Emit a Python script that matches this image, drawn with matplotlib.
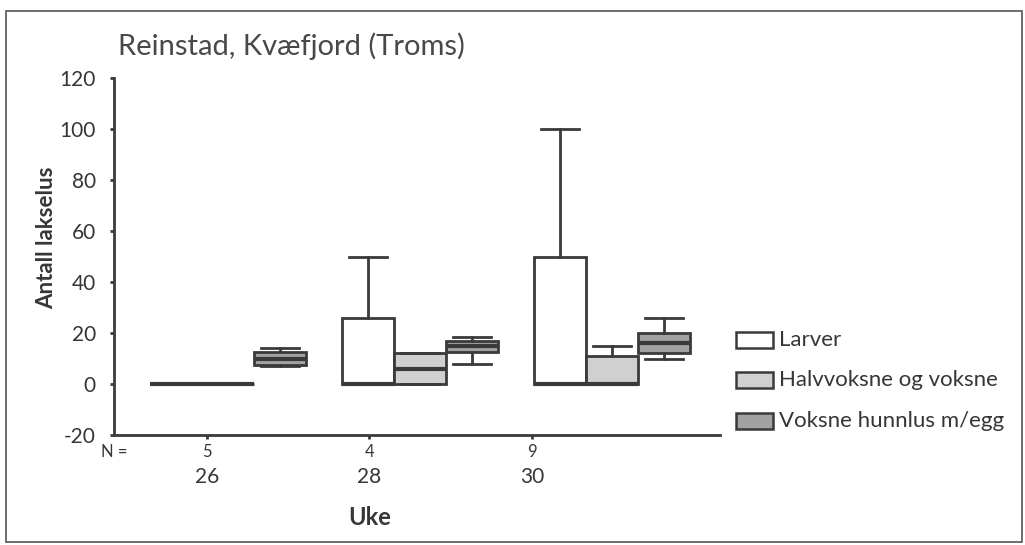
import matplotlib.pyplot as plt
import matplotlib.transforms as mtransforms
from matplotlib.patches import Rectangle

plt.rcParams['font.family'] = ['Lato', 'DejaVu Sans']
plt.rcParams['axes.unicode_minus'] = False

# data
weeks = ['26', '28', '30']
n_fish = ['5', '4', '9']
series = ['Larver', 'Halvvoksne og voksne', 'Voksne hunnlus m/egg']

# box stats per week (whisker low, q1, median, q3, whisker high)
larver_lo = [0, 0, 0]
larver_q1 = [0, 0, 0]
larver_med = [0, 0, 0]
larver_q3 = [0, 26, 50]
larver_hi = [0, 50, 100]

halv_lo = [0, 0, 0]
halv_q1 = [0, 0, 0]
halv_med = [0, 6, 0]
halv_q3 = [0, 12, 11]
halv_hi = [0, 12, 15]

hunn_lo = [7, 8, 10]
hunn_q1 = [7.5, 12.5, 12]
hunn_med = [10, 15, 16]
hunn_q3 = [12.5, 17, 20]
hunn_hi = [14, 18.5, 26]

#%%
line_c = '#3a3a3a'
text_c = '#363636'
fills = ['white', '#d0d0d0', '#a2a2a2']
group_x = [1.13, 2.31, 3.49]
offsets = [-0.32, 0.0, 0.32]

fig = plt.figure(figsize=(10.25, 5.45), dpi=100)
ax = fig.add_axes([0.1112, 0.2018, 0.5912, 0.6550])

all_stats = [
    (larver_lo, larver_q1, larver_med, larver_q3, larver_hi),
    (halv_lo, halv_q1, halv_med, halv_q3, halv_hi),
    (hunn_lo, hunn_q1, hunn_med, hunn_q3, hunn_hi),
]
for i, (lo, q1, med, q3, hi) in enumerate(all_stats):
    stats = []
    for k in range(len(weeks)):
        stats.append({'whislo': lo[k], 'q1': q1[k], 'med': med[k],
                      'q3': q3[k], 'whishi': hi[k], 'fliers': []})
    pos = [g + offsets[i] for g in group_x]
    ax.bxp(stats, positions=pos, widths=0.32, capwidths=0.234,
           patch_artist=True, showfliers=False, manage_ticks=False,
           boxprops=dict(facecolor=fills[i], edgecolor=line_c, linewidth=2),
           medianprops=dict(color=line_c, linewidth=3),
           whiskerprops=dict(color=line_c, linewidth=2),
           capprops=dict(color=line_c, linewidth=2))

ax.set_xlim(0.4277, 4.157)
ax.set_ylim(-20, 120)
ax.set_yticks(range(-20, 121, 20))
ax.set_xticks([1, 2, 3])
ax.set_xticklabels(weeks)
for s in ['top', 'right']:
    ax.spines[s].set_visible(False)
for s in ['left', 'bottom']:
    ax.spines[s].set_color(line_c)
    ax.spines[s].set_linewidth(2)
ax.tick_params(axis='y', length=3, width=2, color=line_c, pad=10,
               labelsize=15, labelcolor=text_c)
ax.tick_params(axis='x', length=3, width=2, color=line_c, pad=20,
               labelsize=15, labelcolor=text_c)

# N counts under the axis
trans = mtransforms.blended_transform_factory(ax.transData, ax.transAxes)
for k in range(len(weeks)):
    ax.text(k + 1, -0.048, n_fish[k], transform=trans, ha='center', va='center',
            fontsize=12, color=text_c)
ax.text(0, -0.048, 'N =', transform=ax.transAxes, ha='center', va='center',
        fontsize=12, color=text_c)
ax.text(2, -0.232, 'Uke', transform=trans, ha='center', va='center',
        fontsize=17, fontweight='bold', color=text_c)

fig.text(47 / 1025, 1 - 238 / 545, 'Antall lakselus', rotation=90, ha='center',
         va='center', fontsize=16, fontweight='bold', color=text_c)
fig.text(118 / 1025, 1 - 46 / 545, 'Reinstad, Kvæfjord (Troms)', ha='left',
         va='center', fontsize=21, color='#484848')

# legend drawn by hand
leg_y = [340, 380, 421]
for i in range(len(series)):
    fig.patches.append(Rectangle((736 / 1025, 1 - (leg_y[i] + 8) / 545),
                                 37 / 1025, 16 / 545, transform=fig.transFigure,
                                 facecolor=fills[i], edgecolor=line_c, linewidth=1.8))
    fig.text(779 / 1025, 1 - leg_y[i] / 545, series[i], ha='left', va='center',
             fontsize=16, color=text_c)

# outer frame
fig.patches.append(Rectangle((6 / 1025, 3 / 545), 1016 / 1025, 531 / 545,
                             transform=fig.transFigure, fill=False,
                             edgecolor='#555555', linewidth=1.2))

plt.savefig('out.png', dpi=100)
